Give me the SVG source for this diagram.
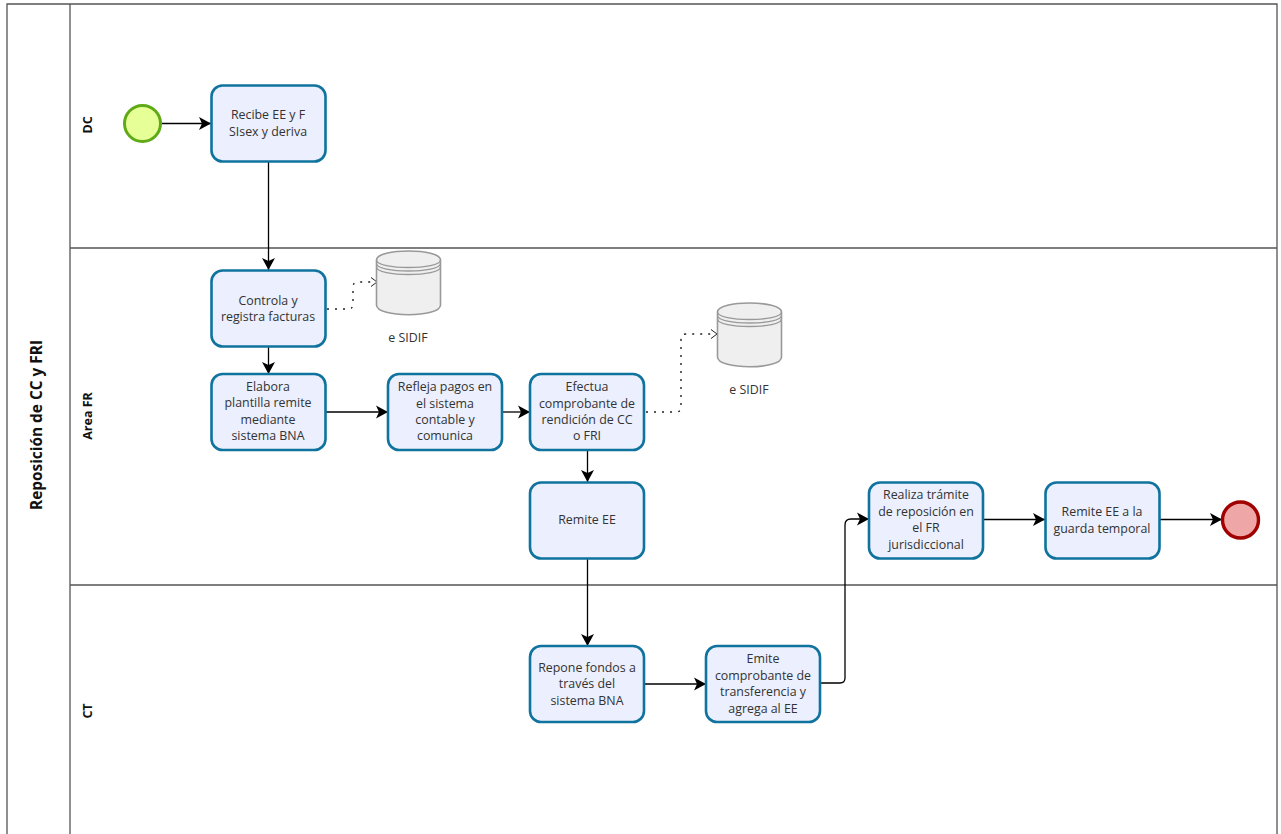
<svg xmlns="http://www.w3.org/2000/svg" width="1281" height="834" viewBox="0 0 1281 834">
<defs>
<marker id="arrow" markerUnits="userSpaceOnUse" markerWidth="16" markerHeight="16" refX="13" refY="8" orient="auto"><path d="M1 1.500L13 8L1 14.500L4 8Z" fill="#000"/></marker>
<marker id="open" markerUnits="userSpaceOnUse" markerWidth="10" markerHeight="12" refX="8" refY="6" orient="auto"><path d="M2 1.500L8 6L2 10.500" fill="none" stroke="#222" stroke-width="1"/></marker>
<g id="db">
<path d="M0 9C0 -3 64 -3 64 9V54C64 67 0 67 0 54Z" fill="#efefef" stroke="#999" stroke-width="1.600"/>
<path d="M0 9C0 19 64 19 64 9M0 12.500C0 22.500 64 22.500 64 12.500M0 16C0 26 64 26 64 16" fill="none" stroke="#999" stroke-width="1.300"/>
</g>
</defs>
<style>
text{font-family:"Open Sans","Noto Sans","DejaVu Sans",sans-serif;font-size:12.400px;fill:#333;text-anchor:middle}
.t{fill:#ebeffe;stroke:#10739e;stroke-width:2.600}
.pool{fill:none;stroke:#555;stroke-width:1.300}
.lane{font-weight:700;fill:#111;font-size:12.500px}
.c{fill:none;stroke:#000;stroke-width:1.300}
.d{fill:none;stroke:#222;stroke-width:1.400;stroke-dasharray:2 6}
</style>
<rect width="1281" height="834" fill="#fff"/>
<g id="pool">
<path class="pool" d="M7 834V4H1277V834"/>
<path class="pool" d="M70 4V834M70 248H1277M70 585H1277"/>
<text transform="translate(42 425) rotate(-90)" style="font-weight:700;font-size:15.400px;fill:#111">Reposición de CC y FRI</text>
<text class="lane" transform="translate(92 125) rotate(-90)">DC</text>
<text class="lane" transform="translate(92 416) rotate(-90)">Area FR</text>
<text class="lane" transform="translate(92 711) rotate(-90)">CT</text>
</g>
<g id="connectors">
<path class="c" d="M161 123.500H211" marker-end="url(#arrow)"/>
<path class="c" d="M268.500 161V270" marker-end="url(#arrow)"/>
<path class="c" d="M268.500 346V374" marker-end="url(#arrow)"/>
<path class="c" d="M325 412H388" marker-end="url(#arrow)"/>
<path class="c" d="M501 412H530" marker-end="url(#arrow)"/>
<path class="c" d="M587.500 449V482" marker-end="url(#arrow)"/>
<path class="c" d="M587.500 558V646" marker-end="url(#arrow)"/>
<path class="c" d="M643 684H706" marker-end="url(#arrow)"/>
<path class="c" d="M820 683H840Q845 683 845 678V525Q845 519 851 519H869" marker-end="url(#arrow)"/>
<path class="c" d="M982 519.500H1045" marker-end="url(#arrow)"/>
<path class="c" d="M1159 519.500H1222" marker-end="url(#arrow)"/>
<path class="d" d="M327 309H348Q353 309 353 304V287Q353 282 358 282H377" marker-end="url(#open)"/>
<path class="d" d="M646 412H676Q681 412 681 407V339Q681 334 686 334H717" marker-end="url(#open)"/>
</g>
<g id="start"><circle cx="142.500" cy="123.500" r="18" fill="#e6ff97" stroke="#60a917" stroke-width="3"/></g>
<g id="end"><circle cx="1240.500" cy="520" r="18" fill="#efa6a6" stroke="#a20000" stroke-width="3.400"/></g>
<g id="n1"><rect class="t" x="211.500" y="85.500" width="114" height="76" rx="11"/><text x="268" y="119">Recibe EE y F</text><text x="268" y="135.500">SIsex y deriva</text></g>
<g id="n2"><rect class="t" x="211.500" y="270.500" width="114" height="76" rx="11"/><text x="268" y="305">Controla y</text><text x="268" y="321">registra facturas</text></g>
<g id="n3"><rect class="t" x="211.500" y="374" width="114" height="76" rx="11"/><text x="268" y="391">Elabora</text><text x="268" y="407">plantilla remite</text><text x="268" y="424">mediante</text><text x="268" y="440">sistema BNA</text></g>
<g id="n4"><rect class="t" x="388" y="374" width="114" height="76" rx="11"/><text x="445" y="391">Refleja pagos en</text><text x="445" y="408">el sistema</text><text x="445" y="424">contable y</text><text x="445" y="440">comunica</text></g>
<g id="n5"><rect class="t" x="530" y="374" width="114" height="76" rx="11"/><text x="587" y="391">Efectua</text><text x="587" y="408">comprobante de</text><text x="587" y="424">rendición de CC</text><text x="587" y="440">o FRI</text></g>
<g id="n6"><rect class="t" x="530" y="482.500" width="114" height="76" rx="11"/><text x="587" y="524">Remite EE</text></g>
<g id="n7"><rect class="t" x="530" y="646" width="114" height="76" rx="11"/><text x="587" y="672">Repone fondos a</text><text x="587" y="688">través del</text><text x="587" y="705">sistema BNA</text></g>
<g id="n8"><rect class="t" x="706" y="646" width="114" height="76" rx="11"/><text x="763" y="663">Emite</text><text x="763" y="680">comprobante de</text><text x="763" y="696">transferencia y</text><text x="763" y="713">agrega al EE</text></g>
<g id="n9"><rect class="t" x="869" y="482.500" width="114" height="76" rx="11"/><text x="926" y="499">Realiza trámite</text><text x="926" y="516">de reposición en</text><text x="926" y="532">el FR</text><text x="926" y="549">jurisdiccional</text></g>
<g id="n10"><rect class="t" x="1045.500" y="482.500" width="114" height="76" rx="11"/><text x="1102" y="516">Remite EE a la</text><text x="1102" y="533">guarda temporal</text></g>
<g id="db1"><use href="#db" x="376.500" y="251"/><text x="408" y="342">e SIDIF</text></g>
<g id="db2"><use href="#db" x="717.500" y="303"/><text x="749" y="394">e SIDIF</text></g>
</svg>
